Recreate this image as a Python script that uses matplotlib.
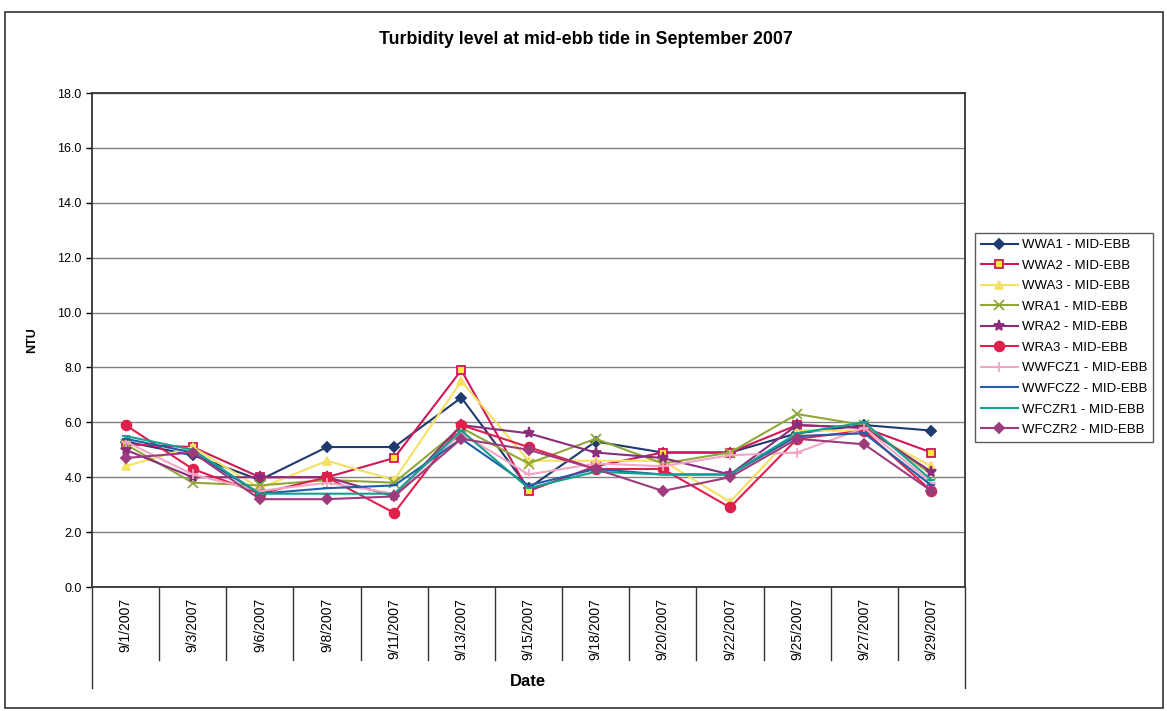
import numpy as np
import matplotlib.pyplot as plt
from matplotlib.patches import Rectangle

dates = ["9/1/2007", "9/3/2007", "9/6/2007", "9/8/2007", "9/11/2007", "9/13/2007", "9/15/2007",
         "9/18/2007", "9/20/2007", "9/22/2007", "9/25/2007", "9/27/2007", "9/29/2007"]

wwa1 = [5.3, 4.8, 3.9, 5.1, 5.1, 6.9, 3.6, 5.3, 4.9, 4.9, 5.6, 5.9, 5.7]
wwa2 = [5.2, 5.1, 4.0, 4.0, 4.7, 7.9, 3.5, 4.4, 4.9, 4.9, 5.9, 5.8, 4.9]
wwa3 = [4.4, 5.1, 3.6, 4.6, 3.9, 7.5, 4.6, 4.6, 4.6, 3.1, 5.7, 5.7, 4.4]
wra1 = [5.2, 3.8, 3.7, 3.9, 3.8, 5.8, 4.5, 5.4, 4.5, 4.9, 6.3, 5.9, 4.1]
wra2 = [5.0, 4.0, 4.0, 4.0, 3.3, 5.9, 5.6, 4.9, 4.7, 4.1, 5.9, 5.8, 4.2]
wra3 = [5.9, 4.3, 3.4, 4.0, 2.7, 5.9, 5.1, 4.3, 4.3, 2.9, 5.4, 5.7, 3.5]
wwfcz1 = [5.3, 4.1, 3.5, 3.8, 3.4, 5.6, 4.1, 4.5, 4.4, 4.8, 4.9, 5.8, 3.8]
wwfcz2 = [5.4, 4.9, 3.4, 3.6, 3.7, 5.4, 3.7, 4.3, 4.1, 4.1, 5.5, 5.6, 3.7]
wfczr1 = [5.5, 5.0, 3.4, 3.4, 3.4, 5.7, 3.6, 4.2, 4.1, 4.1, 5.6, 6.0, 3.9]
wfczr2 = [4.7, 4.9, 3.2, 3.2, 3.3, 5.4, 5.0, 4.3, 3.5, 4.0, 5.4, 5.2, 3.5]

series = [
    ("WWA1 - MID-EBB", wwa1, "#1f3a6e", "D", "#1f3a6e", 5),
    ("WWA2 - MID-EBB", wwa2, "#d01858", "s", "#f7ec3a", 6),
    ("WWA3 - MID-EBB", wwa3, "#f4e063", "^", "#f4e063", 6),
    ("WRA1 - MID-EBB", wra1, "#8fa838", "x", "#8fa838", 7),
    ("WRA2 - MID-EBB", wra2, "#8c2c7c", "*", "#8c2c7c", 8),
    ("WRA3 - MID-EBB", wra3, "#e0204c", "o", "#e0204c", 7),
    ("WWFCZ1 - MID-EBB", wwfcz1, "#f2a6c6", "+", "#f2a6c6", 7),
    ("WWFCZ2 - MID-EBB", wwfcz2, "#1f5fa8", "_", "#1f5fa8", 6),
    ("WFCZR1 - MID-EBB", wfczr1, "#14a08c", "_", "#14a08c", 6),
    ("WFCZR2 - MID-EBB", wfczr2, "#9c3c7c", "D", "#9c3c7c", 5),
]

plt.rcParams['font.family'] = ['Liberation Sans', 'DejaVu Sans']

fig = plt.figure(figsize=(11.67, 7.11), dpi=100)
ax = fig.add_axes([92/1167, 1-587/711, (965-92)/1167, (587-93)/711])

x = np.arange(len(dates))
handles = []
for name, vals, col, mk, fc, ms in series:
    h, = ax.plot(x, vals, color=col, lw=1.5, marker=mk, markersize=ms,
                 markerfacecolor=fc, markeredgecolor=col, markeredgewidth=1.3, label=name)
    handles.append(h)

ax.set_xlim(-0.5, len(dates)-0.5)
ax.set_ylim(0, 18)
yt = np.arange(0, 18.1, 2)
ax.set_yticks(yt)
ax.set_yticklabels([f"{v:.1f}" for v in yt], fontsize=9)
ax.yaxis.grid(True, color="#808080", lw=1.0)
ax.set_axisbelow(True)
for s in ax.spines.values():
    s.set_linewidth(1.3)
    s.set_color("#333333")
ax.tick_params(axis='y', length=4, width=1)

ax.set_xticks(x)
ax.set_xticklabels(dates, rotation=90, fontsize=10, va='top')
ax.tick_params(axis='x', length=0, pad=8)

# category divider lines below the axis (data units: 18 units over 494 px)
px = 18 / 494
for i in range(len(dates)+1):
    xb = i - 0.5
    yend = -101 * px if i in (0, len(dates)) else -73 * px
    ax.plot([xb, xb], [0, yend], color="#333333", lw=1, clip_on=False)

ax.set_ylabel("NTU", fontsize=9, fontweight='bold', labelpad=14)
fig.text(528/1167, 1-681/711, "Date", fontsize=12, fontweight='bold',
         ha='center', va='center')
fig.text(586/1167, 1-40/711, "Turbidity level at mid-ebb tide in September 2007", fontsize=12.8,
         fontweight='bold', ha='center', va='center')

leg = fig.legend(handles=handles, loc='upper left', bbox_to_anchor=(975/1167, 1-233/711),
                 fontsize=9.5, frameon=True, fancybox=False, handlelength=2.8,
                 borderpad=0.45, labelspacing=0.63, handletextpad=0.3, borderaxespad=0)
leg.get_frame().set_edgecolor("#333333")
leg.get_frame().set_linewidth(1.0)

fig.patches.append(Rectangle((5/1167, 1-708/711), 1158/1167, 696/711, transform=fig.transFigure,
                             fill=False, edgecolor="#333333", lw=1.2))

fig.savefig("out.png", dpi=100)
